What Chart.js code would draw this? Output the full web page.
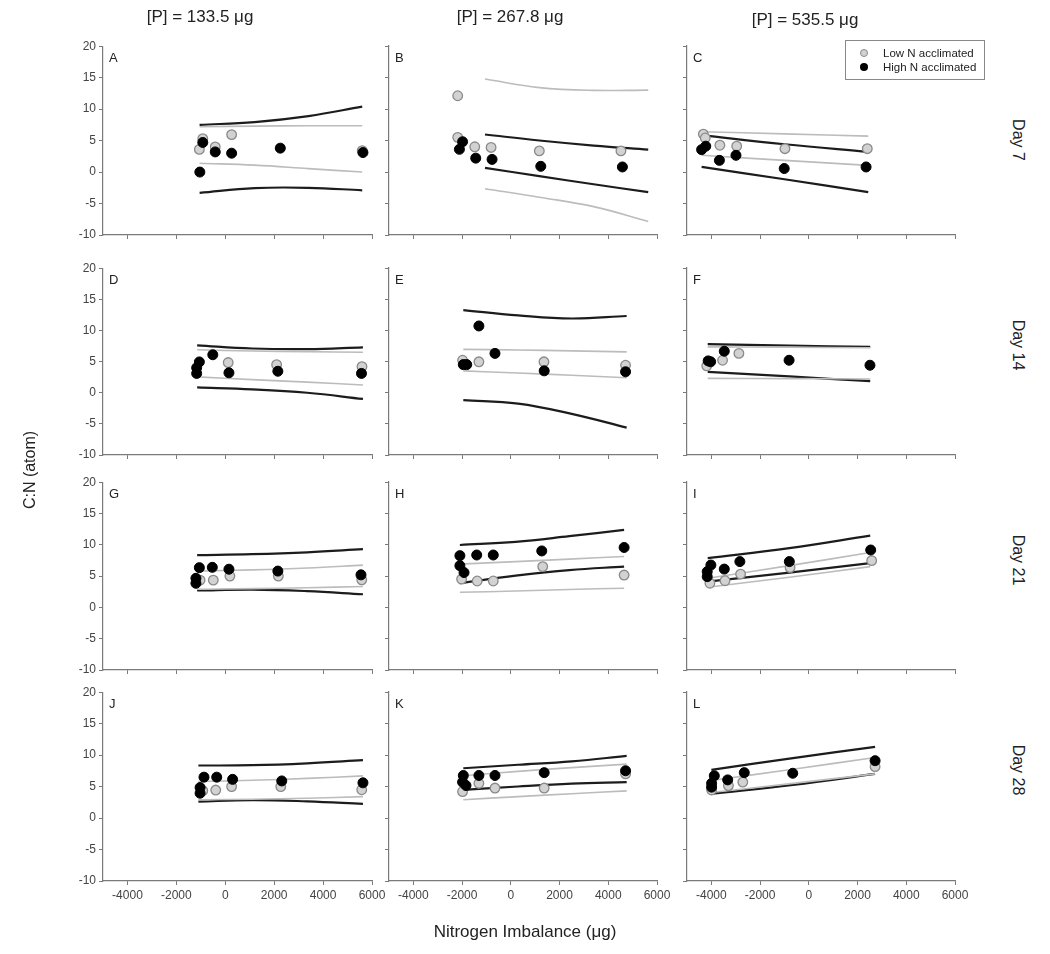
<!DOCTYPE html>
<html>
<head>
<meta charset="utf-8">
<script src="https://cdn.jsdelivr.net/npm/chart.js@4.4.0/dist/chart.umd.min.js"></script>
<style>
body { margin: 0; background: #fff; font-family: Arial, "Liberation Sans", sans-serif; }
#wrap { position: relative; width: 1050px; height: 954px; overflow: hidden; }
canvas { position: absolute; }
.txt { position: absolute; color: #222; white-space: nowrap; transform: translate(-50%, -50%); }
.ttl { font-size: 17px; }
.day { font-size: 16px; transform: translate(-50%, -50%) rotate(90deg); }
.ylab { font-size: 16px; transform: translate(-50%, -50%) rotate(-90deg); }
.let { position: absolute; font-size: 13px; color: #222; }
#legend { position: absolute; left: 845px; top: 40px; width: 138px; height: 38px; border: 1px solid #888; background: #fff; font-size: 11.5px; color: #222; }
#legend div { position: absolute; left: 0; height: 14px; line-height: 14px; }
#legend span.dot { position: absolute; left: 14px; top: 3px; width: 8px; height: 8px; border-radius: 50%; box-sizing: border-box; }
#legend span.lab { position: absolute; left: 37px; top: 0; }
</style>
</head>
<body>
<div id="wrap"></div>
<script>
// shared axis ticks
const yTicks = [-10, -5, 0, 5, 10, 15, 20];
const xTicks = [-4000, -2000, 0, 2000, 4000, 6000];

// Day 7
const A_low = [[-1060, 3.6], [-920, 5.3], [-410, 4.0], [260, 5.95], [5600, 3.4]];
const A_high = [[-1040, 0.0], [-920, 4.7], [-410, 3.2], [260, 3.0], [2250, 3.8], [5630, 3.1]];
const A_fitX = [-1050, 1200, 3400, 5600];
const A_lowUp = [7.2, 7.3, 7.35, 7.35];
const A_lowDn = [1.4, 1.1, 0.55, 0.0];
const A_highUp = [7.5, 7.95, 8.9, 10.4];
const A_highDn = [-3.3, -2.55, -2.5, -2.9];

const B_low = [[-2180, 12.1], [-2180, 5.5], [-1480, 4.0], [-810, 3.9], [1170, 3.35], [4520, 3.35]];
const B_high = [[-1980, 4.8], [-2110, 3.6], [-1440, 2.2], [-770, 2.0], [1230, 0.9], [4580, 0.8]];
const B_fitX = [-1060, 1170, 3400, 5640];
const B_lowUp = [14.75, 13.4, 12.95, 13.0];
const B_lowDn = [-2.65, -4.0, -5.5, -7.85];
const B_highUp = [5.95, 5.0, 4.2, 3.55];
const B_highDn = [0.65, -0.65, -1.95, -3.2];

const C_low = [[-4330, 6.0], [-4250, 5.4], [-3650, 4.25], [-2960, 4.1], [-980, 3.7], [2400, 3.7]];
const C_high = [[-4400, 3.55], [-4230, 4.1], [-3670, 1.85], [-2990, 2.65], [-1010, 0.55], [2350, 0.8]];
const C_fitX = [-4400, -1000, 2440];
const C_lowUp = [6.4, 6.05, 5.7];
const C_lowDn = [2.65, 1.85, 1.05];
const C_highUp = [5.85, 4.4, 3.2];
const C_highDn = [0.8, -1.15, -3.2];

// Day 14
const D_low = [[120, 4.85], [2100, 4.5], [5590, 4.2]];
const D_high = [[-510, 6.1], [-1060, 4.95], [-1170, 4.0], [-1170, 3.1], [150, 3.2], [2150, 3.45], [5570, 3.1]];
const D_fitX = [-1150, 1100, 3350, 5630];
const D_lowUp = [6.9, 6.7, 6.6, 6.5];
const D_lowDn = [2.55, 2.1, 1.7, 1.25];
const D_highUp = [7.6, 7.1, 7.0, 7.3];
const D_highDn = [0.85, 0.55, 0.0, -1.0];

const E_low = [[-1980, 5.2], [-1310, 4.95], [1360, 4.95], [4710, 4.4]];
const E_high = [[-1310, 10.7], [-650, 6.3], [-1950, 4.5], [-1810, 4.5], [1370, 3.5], [4710, 3.35]];
const E_fitX = [-1950, 300, 2500, 4755];
const E_lowUp = [6.95, 6.85, 6.7, 6.55];
const E_lowDn = [3.5, 3.15, 2.8, 2.4];
const E_highUp = [13.25, 12.4, 11.9, 12.3];
const E_highDn = [-1.2, -1.75, -3.4, -5.6];

const F_low = [[-4190, 4.3], [-3540, 5.2], [-2870, 6.3]];
const F_high = [[-4130, 5.1], [-4030, 4.95], [-3470, 6.65], [-810, 5.2], [2510, 4.4]];
const F_fitX = [-4150, -800, 2520];
const F_lowUp = [7.35, 7.3, 7.2];
const F_lowDn = [2.3, 2.25, 2.2];
const F_highUp = [7.8, 7.55, 7.35];
const F_highDn = [3.35, 2.6, 1.85];

// Day 21
const G_low = [[-1030, 4.35], [-490, 4.35], [190, 5.0], [2170, 5.0], [5580, 4.4]];
const G_high = [[-1060, 6.35], [-530, 6.4], [150, 6.1], [2150, 5.8], [-1200, 4.65], [-1200, 3.85], [5550, 5.2]];
const G_fitX = [-1150, 1100, 3350, 5630];
const G_lowUp = [5.8, 6.0, 6.3, 6.75];
const G_lowDn = [2.9, 3.0, 3.15, 3.35];
const G_highUp = [8.35, 8.5, 8.8, 9.3];
const G_highDn = [2.7, 2.85, 2.6, 2.1];

const H_low = [[-2020, 4.5], [-1380, 4.2], [-720, 4.2], [1310, 6.5], [4650, 5.15]];
const H_high = [[-2090, 8.25], [-1400, 8.35], [-720, 8.35], [1270, 9.0], [4650, 9.55], [-2090, 6.65], [-1920, 5.55]];
const H_fitX = [-2090, 200, 2400, 4650];
const H_lowUp = [6.9, 7.3, 7.7, 8.1];
const H_lowDn = [2.4, 2.6, 2.85, 3.05];
const H_highUp = [9.95, 10.45, 11.35, 12.35];
const H_highDn = [3.85, 5.05, 5.95, 6.5];

const I_low = [[-4060, 3.85], [-3440, 4.25], [-2800, 5.3], [-770, 6.35], [2580, 7.45]];
const I_high = [[-4170, 5.7], [-4170, 4.9], [-4020, 6.75], [-3470, 6.1], [-2830, 7.3], [-800, 7.3], [2540, 9.15]];
const I_fitX = [-4150, -800, 2520];
const I_lowUp = [4.65, 6.65, 8.75];
const I_lowDn = [3.2, 4.8, 6.5];
const I_highUp = [7.85, 9.45, 11.45];
const I_highDn = [4.1, 5.55, 7.05];

// Day 28
const J_low = [[-920, 4.35], [-390, 4.45], [260, 5.0], [2270, 5.0], [5580, 4.5]];
const J_high = [[-870, 6.5], [-350, 6.5], [300, 6.15], [2310, 5.9], [-1030, 4.85], [-1030, 3.95], [5630, 5.6]];
const J_fitX = [-1100, 1100, 3350, 5630];
const J_lowUp = [5.8, 6.0, 6.3, 6.7];
const J_lowDn = [2.9, 3.0, 3.15, 3.4];
const J_highUp = [8.35, 8.4, 8.7, 9.2];
const J_highDn = [2.6, 2.85, 2.65, 2.25];

const K_low = [[-1980, 4.2], [-1310, 5.5], [-650, 4.75], [1370, 4.75], [4710, 7.0]];
const K_high = [[-1950, 6.75], [-1310, 6.75], [-650, 6.75], [1370, 7.2], [4710, 7.5], [-1980, 5.7], [-1840, 5.15]];
const K_fitX = [-1950, 300, 2500, 4755];
const K_lowUp = [6.7, 7.4, 8.0, 8.55];
const K_lowDn = [2.9, 3.4, 3.85, 4.3];
const K_highUp = [7.9, 8.45, 9.0, 9.85];
const K_highDn = [4.45, 5.0, 5.45, 5.7];

const L_low = [[-3990, 4.45], [-3300, 5.15], [-2710, 5.7], [2720, 8.15]];
const L_high = [[-3990, 5.5], [-3990, 4.9], [-3880, 6.7], [-3330, 6.05], [-2650, 7.2], [-660, 7.1], [2720, 9.1]];
const L_fitX = [-4000, -650, 2720];
const L_lowUp = [5.95, 7.75, 9.6];
const L_lowDn = [4.05, 5.5, 7.0];
const L_highUp = [7.65, 9.5, 11.3];
const L_highDn = [3.85, 5.25, 7.0];

const colTitles = ['[P] = 133.5 \u03bcg', '[P] = 267.8 \u03bcg', '[P] = 535.5 \u03bcg'];
const dayLabels = ['Day 7', 'Day 14', 'Day 21', 'Day 28'];

function mk(letter, low, high, fitX, lowUp, lowDn, highUp, highDn) {
    return { letter, low, high, fitX, lowUp, lowDn, highUp, highDn };
}

const panels = [
    mk('A', A_low, A_high, A_fitX, A_lowUp, A_lowDn, A_highUp, A_highDn),
    mk('B', B_low, B_high, B_fitX, B_lowUp, B_lowDn, B_highUp, B_highDn),
    mk('C', C_low, C_high, C_fitX, C_lowUp, C_lowDn, C_highUp, C_highDn),
    mk('D', D_low, D_high, D_fitX, D_lowUp, D_lowDn, D_highUp, D_highDn),
    mk('E', E_low, E_high, E_fitX, E_lowUp, E_lowDn, E_highUp, E_highDn),
    mk('F', F_low, F_high, F_fitX, F_lowUp, F_lowDn, F_highUp, F_highDn),
    mk('G', G_low, G_high, G_fitX, G_lowUp, G_lowDn, G_highUp, G_highDn),
    mk('H', H_low, H_high, H_fitX, H_lowUp, H_lowDn, H_highUp, H_highDn),
    mk('I', I_low, I_high, I_fitX, I_lowUp, I_lowDn, I_highUp, I_highDn),
    mk('J', J_low, J_high, J_fitX, J_lowUp, J_lowDn, J_highUp, J_highDn),
    mk('K', K_low, K_high, K_fitX, K_lowUp, K_lowDn, K_highUp, K_highDn),
    mk('L', L_low, L_high, L_fitX, L_lowUp, L_lowDn, L_highUp, L_highDn),
];

// plot-area boxes on the page
const cols = [{ left: 103, right: 372 }, { left: 389, right: 657 }, { left: 687, right: 955 }];
const rows = [{ top: 46, bottom: 235 }, { top: 268, bottom: 455 }, { top: 482, bottom: 670 }, { top: 692, bottom: 881 }];
const PAD_L = 50, PAD_T = 10, PAD_R = 22, PAD_B = 30;

const wrap = document.getElementById('wrap');

function addText(cls, text, x, y) {
    const d = document.createElement('div');
    d.className = cls;
    d.textContent = text;
    d.style.left = x + 'px';
    d.style.top = y + 'px';
    wrap.appendChild(d);
    return d;
}

const toPts = arr => arr.map(p => ({ x: p[0], y: p[1] }));
const toLine = (xs, ys) => xs.map((x, i) => ({ x: x, y: ys[i] }));

function curve(data, color, width) {
    return {
        data: data,
        showLine: true,
        pointRadius: 0,
        borderColor: color,
        borderWidth: width,
        tension: 0.4,
        order: 3,
    };
}

panels.forEach((p, i) => {
    const r = rows[Math.floor(i / 3)];
    const c = cols[i % 3];
    const isLeft = i % 3 === 0;
    const isBottom = Math.floor(i / 3) === rows.length - 1;

    const cv = document.createElement('canvas');
    cv.width = (c.right - c.left) + PAD_L + PAD_R;
    cv.height = (r.bottom - r.top) + PAD_T + PAD_B;
    cv.style.left = (c.left - PAD_L) + 'px';
    cv.style.top = (r.top - PAD_T) + 'px';
    wrap.appendChild(cv);

    const axisGrid = {
        display: true,
        drawOnChartArea: false,
        drawTicks: true,
        tickLength: 4,
        color: '#7a7a7a',
    };
    const axisBorder = { display: true, color: '#7a7a7a', width: 1.2 };

    new Chart(cv.getContext('2d'), {
        type: 'scatter',
        data: {
            datasets: [
                {
                    data: toPts(p.high),
                    pointRadius: 5,
                    backgroundColor: '#000',
                    borderColor: '#000',
                    borderWidth: 1,
                    order: 0,
                },
                {
                    data: toPts(p.low),
                    pointRadius: 4.8,
                    backgroundColor: '#d2d2d2',
                    borderColor: '#8a8a8a',
                    borderWidth: 1.3,
                    order: 1,
                },
                curve(toLine(p.fitX, p.lowUp), '#bcbcbc', 1.6),
                curve(toLine(p.fitX, p.lowDn), '#bcbcbc', 1.6),
                curve(toLine(p.fitX, p.highUp), '#1c1c1c', 2.2),
                curve(toLine(p.fitX, p.highDn), '#1c1c1c', 2.2),
            ],
        },
        options: {
            responsive: false,
            animation: false,
            events: [],
            layout: { padding: { top: PAD_T, right: PAD_R, bottom: 0, left: 0 } },
            plugins: { legend: { display: false }, tooltip: { enabled: false } },
            scales: {
                x: {
                    type: 'linear',
                    min: -5000,
                    max: 6000,
                    grid: axisGrid,
                    border: axisBorder,
                    afterBuildTicks: s => { s.ticks = xTicks.map(v => ({ value: v })); },
                    afterFit: s => { s.height = PAD_B; },
                    ticks: {
                        display: isBottom,
                        autoSkip: false,
                        maxRotation: 0,
                        padding: 3,
                        color: '#444',
                        font: { family: 'Arial', size: 12 },
                        callback: v => String(v),
                    },
                },
                y: {
                    type: 'linear',
                    min: -10,
                    max: 20,
                    grid: axisGrid,
                    border: axisBorder,
                    afterBuildTicks: s => { s.ticks = yTicks.map(v => ({ value: v })); },
                    afterFit: s => { s.width = PAD_L; },
                    ticks: {
                        display: isLeft,
                        padding: 3,
                        color: '#444',
                        font: { family: 'Arial', size: 12 },
                        callback: v => String(v),
                    },
                },
            },
        },
    });

    const lt = document.createElement('div');
    lt.className = 'let';
    lt.textContent = p.letter;
    lt.style.left = (c.left + 6) + 'px';
    lt.style.top = (r.top + 4) + 'px';
    wrap.appendChild(lt);
});

// column titles, row labels, axis titles
[200, 510, 805].forEach((x, k) => addText('txt ttl', colTitles[k], x, k === 2 ? 20 : 17));
[140, 345, 560, 770].forEach((y, k) => addText('txt day', dayLabels[k], 1018, y));
addText('txt ylab', 'C:N (atom)', 30, 470);
addText('txt ttl', 'Nitrogen Imbalance (\u03bcg)', 525, 932);

// legend box in panel C
const lg = document.createElement('div');
lg.id = 'legend';
lg.innerHTML =
    '<div style="top:5px;width:100%"><span class="dot" style="background:#d2d2d2;border:1.3px solid #8a8a8a"></span><span class="lab">Low N acclimated</span></div>' +
    '<div style="top:19px;width:100%"><span class="dot" style="background:#000"></span><span class="lab">High N acclimated</span></div>';
wrap.appendChild(lg);
</script>
</body>
</html>
